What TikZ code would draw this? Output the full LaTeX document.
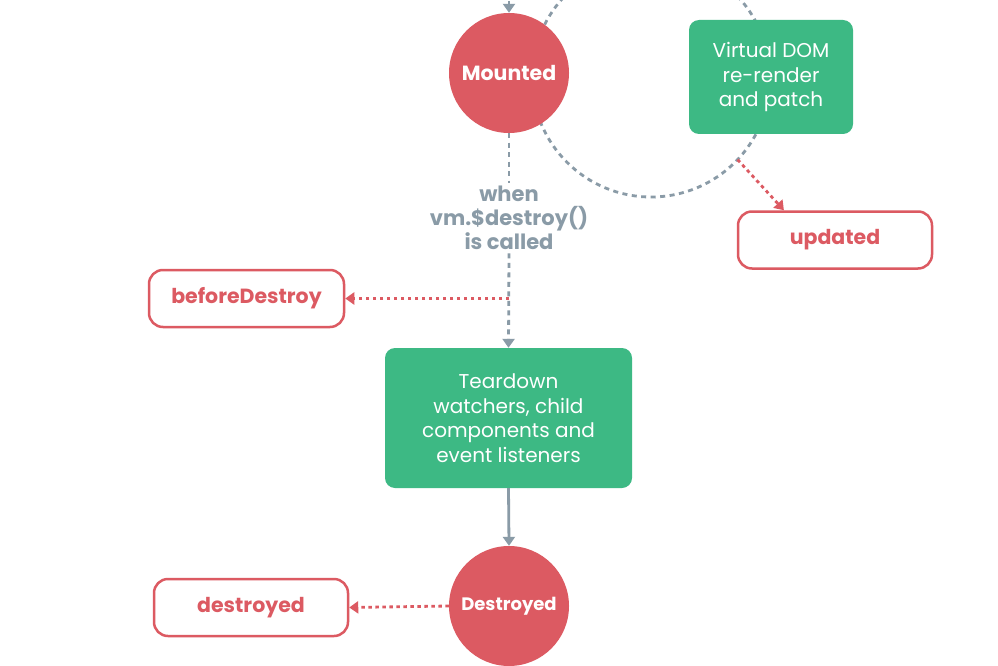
\documentclass[tikz,border=0pt]{standalone}
\usepackage{fontspec}
\setmainfont{Poppins}
\usetikzlibrary{arrows.meta,calc}
\definecolor{vred}{HTML}{DC5A62}
\definecolor{vgreen}{HTML}{3DB984}
\definecolor{vgray}{HTML}{8A9BA7}
\tikzset{
  state/.style={circle, fill=vred, minimum size=120pt, inner sep=0pt, text=white, font=\fontsize{20.5}{24}\selectfont\bfseries},
  action/.style={rectangle, rounded corners=10pt, fill=vgreen, text=white, align=center, inner sep=0pt, font=\fontsize{20}{24.5}\selectfont},
  hook/.style={rectangle, rounded corners=14pt, draw=vred, line width=2.5pt, fill=white, text=vred, inner sep=0pt, font=\fontsize{20.5}{24}\selectfont\bfseries},
  grayflow/.style={draw=vgray, line width=2.8pt, dash pattern=on 5pt off 4.5pt},
  redflow/.style={draw=vred, line width=2.8pt, dash pattern=on 3.5pt off 3.5pt},
  gtip/.style={-{Triangle[length=9pt,width=12pt]}},
  note/.style={text=vgray, align=center, font=\fontsize{21}{24}\selectfont\bfseries},
}
\begin{document}
\begin{tikzpicture}[x=1pt,y=-1pt]
\useasboundingbox (0,0) rectangle (998,666);
\fill[white] (0,0) rectangle (998,666);
% update loop
\draw[grayflow] (651,78) circle (119pt);
\coordinate (loopout) at ($(651,78)+(-43.3:119pt)$);
\node[state] (mounted) at (509,73) {\raisebox{-2pt}{Mounted}};
\node[action, minimum width=164pt, minimum height=114pt] (vdom) at (771,77) {Virtual DOM\\re-render\\and patch};
\node[hook, minimum width=194pt, minimum height=57pt] (updated) at (835,240) {\raisebox{-2pt}{updated}};
\coordinate (topin) at (509,-8);
\draw[grayflow, gtip] (topin) -- (mounted.north);
\draw[redflow, -{Triangle[length=9pt,width=12pt]}] (loopout) -- ($(updated.north west)!0.24!(updated.north east)$);
% destroy
\node[note] (when) at (509,218) {when\\vm.\$destroy()\\is called};
\node[action, minimum width=247pt, minimum height=140pt] (teardown) at (508.5,418) {Teardown\\watchers, child\\components and\\event listeners};
\node[hook, minimum width=195pt, minimum height=57pt] (before) at (246.5,298.5) {\raisebox{-2pt}{beforeDestroy}};
\node[state, font=\fontsize{18}{22}\selectfont\bfseries] (destroyed) at (509,606) {\raisebox{-1.5pt}{Destroyed}};
\node[hook, minimum width=194pt, minimum height=57pt] (dest) at (251,607.5) {\raisebox{-2pt}{destroyed}};
\coordinate (split) at (509,298.5);
\draw[grayflow] (mounted.south) -- (when.north);
\draw[grayflow, gtip] (when.south) -- (teardown.north);
\draw[redflow, -{Triangle[length=9pt,width=12pt]}] (split) -- (before.east);
\draw[draw=vgray, line width=2.8pt, gtip] (teardown.south) -- (destroyed.north);
\draw[redflow, -{Triangle[length=9pt,width=12pt]}] (destroyed.west) -- (dest.east);
\end{tikzpicture}
\end{document}
